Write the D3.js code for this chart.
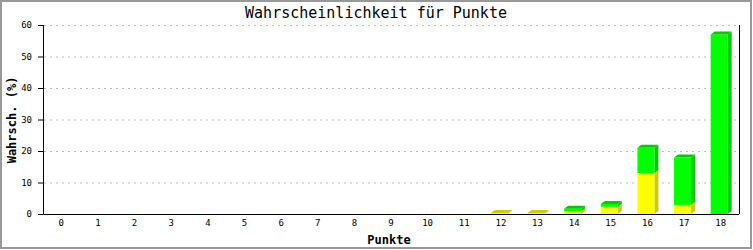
<!DOCTYPE html>
<html>
<head>
<meta charset="utf-8">
<script src="https://cdn.jsdelivr.net/npm/d3@7"></script>
<style>
  body { margin: 0; background: #fff; }
  text { font-family: "DejaVu Sans Mono", monospace; }
</style>
</head>
<body>
<div id="chart"></div>
<script>
// data
const categories = d3.range(0, 19).map(String);
const yellowValues = [0,0,0,0,0,0,0,0,0,0,0,0,0.3,0.3,0.9,2.3,13.0,2.9,0];
const greenValues  = [0,0,0,0,0,0,0,0,0,0,0,0,0,0,0.8,0.9,8.0,15.0,57.0];
const yTicks = [0, 10, 20, 30, 40, 50, 60];

const W = 753, H = 250;
const margin = { top: 25, right: 14, bottom: 36, left: 43 };
const innerW = 739 - margin.left, innerH = 214 - margin.top;
const depthX = 4, depthY = 3, barW = 17;

const svg = d3.select("#chart").append("svg")
    .attr("width", W).attr("height", H);

// outer frame
svg.append("rect")
    .attr("x", 1).attr("y", 1).attr("width", 750).attr("height", 247)
    .attr("fill", "#fff").attr("stroke", "#999").attr("stroke-width", 2);

svg.append("text")
    .attr("x", 376).attr("y", 18)
    .attr("text-anchor", "middle")
    .attr("font-size", "15px")
    .text("Wahrscheinlichkeit für Punkte");

const g = svg.append("g")
    .attr("transform", "translate(" + margin.left + "," + margin.top + ")");

const x = d3.scaleBand().domain(categories).range([0, innerW]);
const y = d3.scaleLinear().domain([0, 60]).range([innerH, 0]);

// grid
g.selectAll(".grid").data(yTicks.slice(1)).enter().append("line")
    .attr("x1", 1).attr("x2", innerW)
    .attr("y1", d => y(d) + 0.5).attr("y2", d => y(d) + 0.5)
    .attr("stroke", "#bbb").attr("stroke-dasharray", "2,4");

// stacked 3D bars
const stacked = categories.map((c, i) => ({ c, parts: [
    { v0: 0, v1: yellowValues[i], front: "#ffff00", dark: "#cccc00" },
    { v0: yellowValues[i], v1: yellowValues[i] + greenValues[i], front: "#00ff00", dark: "#00cc00" }
]}));

stacked.forEach(d => {
    const x0 = x(d.c) + x.bandwidth() / 2 - 10;
    const parts = d.parts.filter(p => p.v1 > p.v0);
    parts.forEach((p, k) => {
        const yTop = y(p.v1), yBot = y(p.v0);
        // side face
        g.append("polygon")
            .attr("points", [[x0 + barW, yBot], [x0 + barW + depthX, yBot - depthY],
                [x0 + barW + depthX, yTop - depthY], [x0 + barW, yTop]].join(" "))
            .attr("fill", p.dark);
        // front face
        g.append("rect")
            .attr("x", x0).attr("y", yTop)
            .attr("width", barW).attr("height", Math.max(0, yBot - yTop))
            .attr("fill", p.front);
        // top face only on the topmost part
        if (k === parts.length - 1) {
            g.append("polygon")
                .attr("points", [[x0, yTop], [x0 + depthX, yTop - depthY],
                    [x0 + barW + depthX, yTop - depthY], [x0 + barW, yTop]].join(" "))
                .attr("fill", p.dark);
        }
    });
});

// axes
g.append("line").attr("x1", 0.5).attr("x2", 0.5).attr("y1", 0).attr("y2", innerH)
    .attr("stroke", "#000");
g.append("line").attr("x1", 0).attr("x2", innerW).attr("y1", innerH + 0.5).attr("y2", innerH + 0.5)
    .attr("stroke", "#000");
g.append("line").attr("x1", innerW + 0.5).attr("x2", innerW + 0.5).attr("y1", 0).attr("y2", innerH)
    .attr("stroke", "#000");

g.selectAll(".ytick").data(yTicks).enter().append("line")
    .attr("x1", -5).attr("x2", 0)
    .attr("y1", d => y(d) + 0.5).attr("y2", d => y(d) + 0.5)
    .attr("stroke", "#000");

g.selectAll(".ylab").data(yTicks).enter().append("text")
    .attr("x", -11).attr("y", d => y(d) + 3)
    .attr("text-anchor", "end")
    .attr("font-size", "9px")
    .text(d => d);

g.selectAll(".xlab").data(categories).enter().append("text")
    .attr("x", d => x(d) + x.bandwidth() / 2)
    .attr("y", innerH + 12)
    .attr("text-anchor", "middle")
    .attr("font-size", "9px")
    .text(d => d);

svg.append("text")
    .attr("x", 389).attr("y", 244)
    .attr("text-anchor", "middle")
    .attr("font-size", "12px").attr("font-weight", "bold")
    .text("Punkte");

svg.append("text")
    .attr("transform", "translate(16,120) rotate(-90)")
    .attr("text-anchor", "middle")
    .attr("font-size", "12px").attr("font-weight", "bold")
    .text("Wahrsch. (%)");
</script>
</body>
</html>
